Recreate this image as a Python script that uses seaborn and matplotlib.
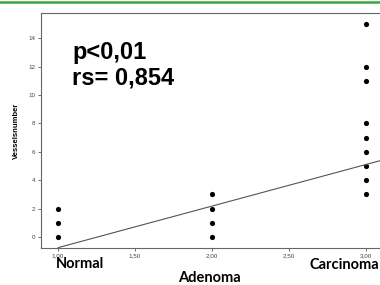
import pandas as pd
import matplotlib
matplotlib.use("Agg")
import matplotlib.pyplot as plt
from matplotlib.lines import Line2D
import seaborn as sns

# Data
group_code = [1, 1, 1, 2, 2, 2, 2, 3, 3, 3, 3, 3, 3, 3, 3, 3]
vessels = [0, 1, 2, 0, 1, 2, 3, 3, 4, 5, 6, 7, 8, 11, 12, 15]
group_names = ["Normal", "Adenoma", "Carcinoma"]
fit_x = [1.0, 3.1]
fit_y = [-0.75, 5.4]
xtick_vals = [1.0, 1.5, 2.0, 2.5, 3.0]
xtick_labels = ["1,00", "1,50", "2,00", "2,50", "3,00"]
ytick_vals = [0, 2, 4, 6, 8, 10, 12, 14]
stats_lines = ["p<0,01", "rs= 0,854"]

df = pd.DataFrame({"group": group_code, "Vesselsnumber": vessels})

sns.set_style("ticks")
plt.rcParams["font.family"] = ["Liberation Sans", "DejaVu Sans"]
plt.rcParams["text.color"] = "black"
plt.rcParams["axes.labelcolor"] = "black"

fig = plt.figure(figsize=(3.8, 2.85), dpi=100)
ax = fig.add_axes([0.108, 0.130, 0.892, 0.824])

sns.scatterplot(data=df, x="group", y="Vesselsnumber", color="black",
                s=14, edgecolor="black", linewidth=0, ax=ax)
ax.plot(fit_x, fit_y, color="#555555", lw=0.8)

ax.set_xlim(0.89, 3.09)
ax.set_ylim(-0.77, 15.76)
ax.set_xticks(xtick_vals)
ax.set_xticklabels(xtick_labels)
ax.set_yticks(ytick_vals)
ax.tick_params(labelsize=4.5, labelcolor="#444444", length=2.5, width=0.6,
               color="#555555", pad=1.5)
ax.set_xlabel("")
ax.set_ylabel("Vesselsnumber", fontsize=5.5, fontweight="bold", labelpad=6)

for side in ["left", "bottom", "top"]:
    ax.spines[side].set_color("#666666")
    ax.spines[side].set_linewidth(0.8)
ax.spines["right"].set_visible(False)

# stats annotation
fig.text(72 / 380, 1 - 59 / 285, stats_lines[0], fontsize=17, fontweight="bold",
         va="baseline", ha="left", color="black")
fig.text(72 / 380, 1 - 85 / 285, stats_lines[1], fontsize=17, fontweight="bold",
         va="baseline", ha="left", color="black")

# group labels under the axis
label_pos = [(80, 268), (209, 282), (344, 269)]
for name, (px, py) in zip(group_names, label_pos):
    fig.text(px / 380, 1 - py / 285, name, fontsize=10.5, fontweight="bold",
             family=["Lato", "DejaVu Sans"], ha="center", va="baseline",
             color="black")

# green rule at the top
fig.add_artist(Line2D([0, 1], [1 - 2 / 285, 1 - 2 / 285], color="#3aa83a",
                      lw=1.8, transform=fig.transFigure))

fig.savefig("out.png", dpi=100)
